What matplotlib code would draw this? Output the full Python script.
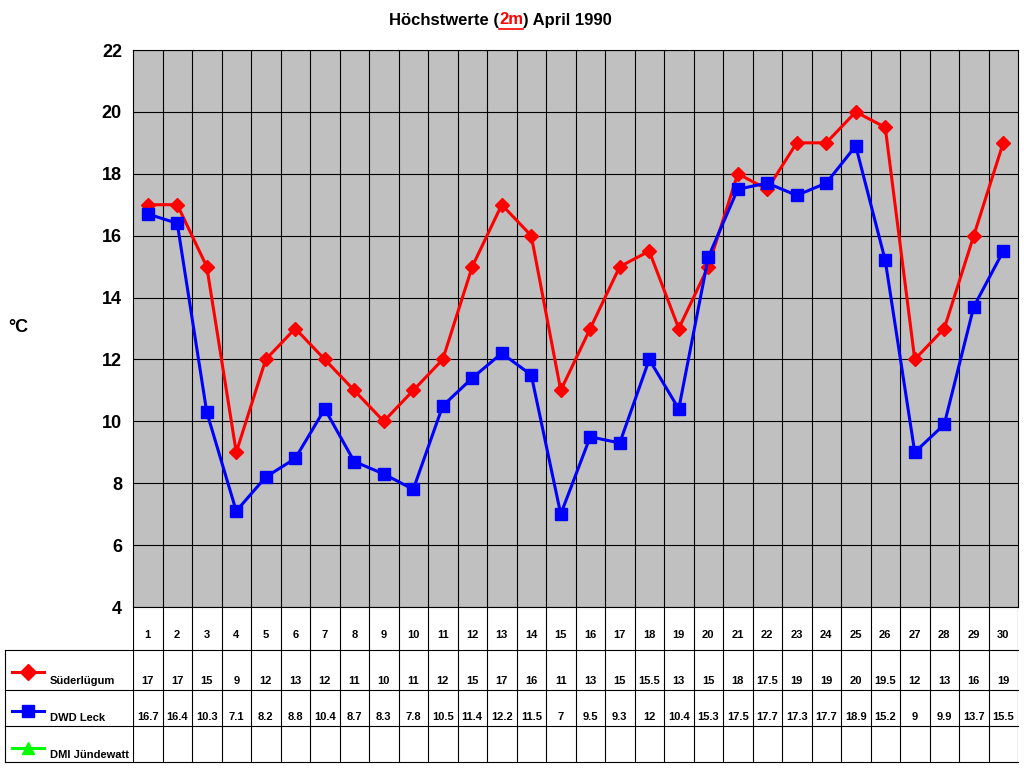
import matplotlib
matplotlib.use("Agg")
import matplotlib.pyplot as plt

days = list(range(1, 31))
suederluegum = [17,17,15,9,12,13,12,11,10,11,12,15,17,16,11,13,15,15.5,13,15,18,17.5,19,19,20,19.5,12,13,16,19]
dwd_leck = [16.7,16.4,10.3,7.1,8.2,8.8,10.4,8.7,8.3,7.8,10.5,11.4,12.2,11.5,7,9.5,9.3,12,10.4,15.3,17.5,17.7,17.3,17.7,18.9,15.2,9,9.9,13.7,15.5]
series_names = ["Süderlügum", "DWD Leck", "DMI Jündewatt"]
yticks = list(range(4, 23, 2))

W, H = 1024, 768
fig = plt.figure(figsize=(10.24, 7.68), dpi=100)
plt.rcParams['font.family'] = ['Liberation Sans', 'DejaVu Sans']

def fx(px): return px / W
def fy(py): return 1 - py / H

L, R, T, B = 133, 1018, 50, 607
ax = fig.add_axes([fx(L), fy(B), fx(R) - fx(L), fy(T) - fy(B)])
ax.set_facecolor('#C0C0C0')
ax.set_xlim(0.5, 30.5)
ax.set_ylim(4, 22)
for v in range(1, 30):
    ax.axvline(v + 0.5, color='black', lw=0.8)
for y in yticks:
    ax.axhline(y, color='black', lw=0.8)
ax.plot(days, suederluegum, color='#FF0000', marker='D', ms=7, lw=2.2, zorder=3)
ax.plot(days, dwd_leck, color='#0000FF', marker='s', ms=8, lw=2.2, zorder=3)
ax.set_yticks(yticks)
ax.set_yticklabels([str(y) for y in yticks], fontsize=13, fontweight='bold')
ax.set_xticks([])
ax.tick_params(axis='y', length=0, pad=8)
for s in ax.spines.values():
    s.set_color('black')
fig.text(fx(8), fy(327), '°C', fontsize=13, fontweight='bold', va='center')

# table
tb = fig.add_axes([fx(L), fy(762), fx(R) - fx(L), fy(B) - fy(762)])
tb.set_xlim(0.5, 30.5)
tb.set_ylim(762, 607)
tb.axis('off')
for v in range(0, 31):
    tb.plot([v + 0.5, v + 0.5], [607, 762], color='black', lw=0.8)
for d in days:
    tb.text(d, 635, str(d), ha='center', va='center', fontsize=8, fontweight='bold')
    tb.text(d, 681, f"{suederluegum[d-1]:g}", ha='center', va='center', fontsize=8, fontweight='bold')
    tb.text(d, 717, f"{dwd_leck[d-1]:g}", ha='center', va='center', fontsize=8, fontweight='bold')

lg = fig.add_axes([0, 0, 1, 1], facecolor='none')
lg.set_xlim(0, W); lg.set_ylim(H, 0); lg.axis('off')
for yy in [650, 690, 726, 762]:
    lg.plot([5, R], [yy, yy], color='black', lw=0.8)
lg.plot([5, 5], [650, 762], color='black', lw=0.8)
cols = ['#FF0000', '#0000FF', '#00FF00']
marks = ['D', 's', '^']
for i, (name, yc, yt) in enumerate(zip(series_names, [672, 711, 748], [681, 718, 755])):
    lg.plot([12, 44], [yc, yc], color=cols[i], lw=2.2)
    lg.plot([28], [yc], color=cols[i], marker=marks[i], ms=8)
    lg.text(50, yt, name, fontsize=8, fontweight='bold', va='center')

# title
t1 = fig.text(fx(389), fy(20), 'Höchstwerte (', fontsize=12, fontweight='bold', va='center')
t2 = fig.text(0, 0, '2m', fontsize=12, fontweight='bold', color='#FF0000')
fig.canvas.draw()
r = fig.canvas.get_renderer()
bb = t1.get_window_extent(r)
t2.set_position((bb.x1 / W, fy(20))); t2.set_va('center')
fig.canvas.draw()
bb2 = t2.get_window_extent(r)
t3 = fig.text(bb2.x1 / W, fy(20), ') April 1990', fontsize=12, fontweight='bold', va='center')
lg.plot([bb2.x0, bb2.x1], [H - bb2.y0 + 1, H - bb2.y0 + 1], color='#FF0000', lw=1.2)

fig.savefig('out.png', dpi=100)
